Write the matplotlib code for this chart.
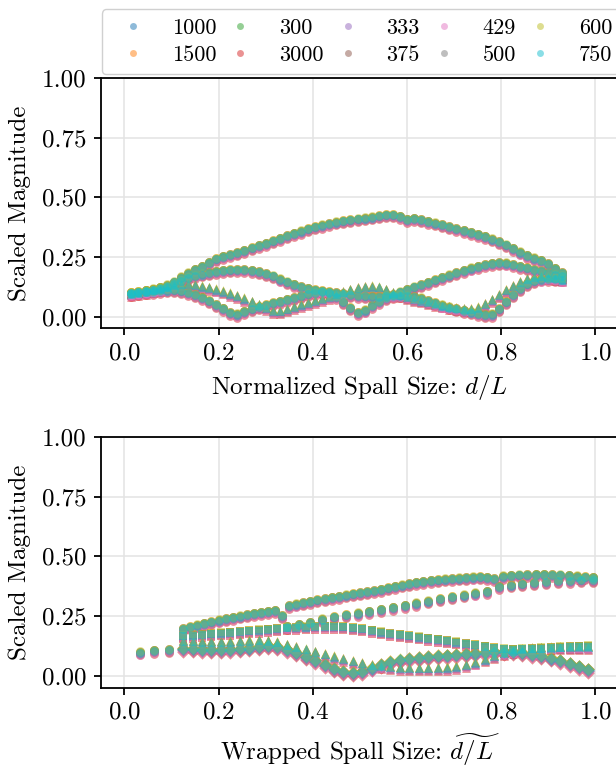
import numpy as np
import matplotlib
matplotlib.use("Agg")
import matplotlib.pyplot as plt
from matplotlib.lines import Line2D

plt.rcParams["font.family"] = "serif"
plt.rcParams["font.serif"] = ["cmr10"]
plt.rcParams["mathtext.fontset"] = "cm"
plt.rcParams["axes.formatter.use_mathtext"] = True
plt.rcParams["axes.unicode_minus"] = False

# series (legend order) and their colours
labels = ["1000", "1500", "300", "3000", "333", "375", "429", "500", "600", "750"]
colors = ["tab:blue", "tab:orange", "tab:green", "tab:red", "tab:purple",
          "tab:brown", "tab:pink", "tab:gray", "tab:olive", "tab:cyan"]
# small per-series vertical spread
spread = [0.0, 0.004, 0.002, -0.012, -0.004, -0.006, -0.008, 0.003, 0.005, 0.0]

# ---- top panel: normalized spall size
top_x = [0.015, 0.030, 0.045, 0.060, 0.075, 0.090, 0.105, 0.120, 0.135, 0.150,
         0.165, 0.180, 0.195, 0.210, 0.225, 0.240, 0.255, 0.270, 0.285, 0.300,
         0.315, 0.330, 0.345, 0.360, 0.375, 0.390, 0.405, 0.420, 0.435, 0.450,
         0.465, 0.480, 0.495, 0.510, 0.525, 0.540, 0.555, 0.570, 0.585, 0.600,
         0.615, 0.630, 0.645, 0.660, 0.675, 0.690, 0.705, 0.720, 0.735, 0.750,
         0.765, 0.780, 0.795, 0.810, 0.825, 0.840, 0.855, 0.870, 0.885, 0.900,
         0.915, 0.930]
top_a = [0.097, 0.102, 0.108, 0.113, 0.120, 0.130, 0.143, 0.163, 0.180, 0.196,
         0.208, 0.225, 0.240, 0.250, 0.258, 0.266, 0.276, 0.286, 0.296, 0.305,
         0.315, 0.326, 0.337, 0.347, 0.356, 0.366, 0.374, 0.381, 0.388, 0.394,
         0.399, 0.403, 0.407, 0.411, 0.415, 0.420, 0.424, 0.424, 0.418, 0.405,
         0.410, 0.404, 0.397, 0.390, 0.383, 0.375, 0.367, 0.359, 0.351, 0.343,
         0.334, 0.323, 0.312, 0.298, 0.284, 0.268, 0.255, 0.243, 0.234, 0.220,
         0.200, 0.182]
top_b = [0.097, 0.101, 0.106, 0.111, 0.117, 0.125, 0.135, 0.148, 0.160, 0.170,
         0.176, 0.182, 0.188, 0.192, 0.194, 0.195, 0.195, 0.192, 0.186, 0.178,
         0.168, 0.155, 0.143, 0.133, 0.124, 0.116, 0.110, 0.106, 0.102, 0.098,
         0.094, 0.090, 0.087, 0.085, 0.084, 0.084, 0.085, 0.087, 0.088, 0.087,
         0.083, 0.075, 0.065, 0.055, 0.046, 0.038, 0.031, 0.024, 0.017, 0.011,
         0.006, 0.008, 0.030, 0.060, 0.090, 0.115, 0.135, 0.148, 0.155, 0.158,
         0.157, 0.155]
top_c = [0.095, 0.099, 0.104, 0.110, 0.117, 0.124, 0.132, 0.138, 0.137, 0.132,
         0.126, 0.120, 0.113, 0.105, 0.096, 0.086, 0.075, 0.062, 0.049, 0.036,
         0.024, 0.022, 0.030, 0.040, 0.050, 0.058, 0.066, 0.074, 0.083, 0.093,
         0.103, 0.112, 0.119, 0.124, 0.126, 0.122, 0.112, 0.100, 0.089, 0.080,
         0.073, 0.067, 0.060, 0.053, 0.046, 0.040, 0.035, 0.031, 0.030, 0.038,
         0.052, 0.070, 0.090, 0.110, 0.128, 0.145, 0.157, 0.165, 0.168, 0.167,
         0.162, 0.155]
top_d = [0.095, 0.098, 0.101, 0.104, 0.107, 0.109, 0.110, 0.106, 0.099, 0.090,
         0.078, 0.064, 0.048, 0.032, 0.015, 0.008, 0.020, 0.030, 0.039, 0.047,
         0.055, 0.062, 0.070, 0.077, 0.085, 0.093, 0.100, 0.104, 0.098, 0.082,
         0.060, 0.035, 0.015, 0.025, 0.045, 0.062, 0.077, 0.090, 0.101, 0.112,
         0.122, 0.132, 0.142, 0.152, 0.162, 0.172, 0.182, 0.192, 0.201, 0.209,
         0.216, 0.221, 0.224, 0.222, 0.216, 0.209, 0.202, 0.195, 0.189, 0.182,
         0.175, 0.168]

# ---- bottom panel: wrapped spall size
bot_u1_x = [0.033, 0.064, 0.095,
            0.125, 0.140, 0.155, 0.170, 0.185, 0.200, 0.215, 0.230, 0.245, 0.260,
            0.275, 0.290, 0.305, 0.320, 0.335, 0.350, 0.365, 0.380, 0.395, 0.410,
            0.425, 0.440, 0.455, 0.470, 0.485, 0.500, 0.515, 0.530, 0.545, 0.560,
            0.575, 0.590, 0.605, 0.620, 0.635, 0.650, 0.665, 0.680, 0.695, 0.710,
            0.725, 0.740, 0.755, 0.770, 0.785,
            0.803, 0.820, 0.838, 0.855, 0.873, 0.890, 0.908, 0.925, 0.943, 0.960,
            0.978, 0.995]
bot_u1 = [0.097, 0.104, 0.107,
          0.195, 0.203, 0.210, 0.217, 0.224, 0.231, 0.237, 0.243, 0.248, 0.254,
          0.259, 0.264, 0.268, 0.272, 0.250, 0.292, 0.298, 0.304, 0.310, 0.316,
          0.321, 0.326, 0.331, 0.336, 0.341, 0.346, 0.350, 0.355, 0.360, 0.366,
          0.372, 0.378, 0.384, 0.389, 0.393, 0.397, 0.400, 0.403, 0.405, 0.407,
          0.409, 0.411, 0.412, 0.410, 0.405,
          0.415, 0.418, 0.420, 0.422, 0.423, 0.423, 0.422, 0.420, 0.418, 0.415,
          0.412, 0.410]
bot_u2_x = [0.345, 0.370, 0.395, 0.420, 0.445, 0.470, 0.495, 0.520, 0.545, 0.570,
            0.595, 0.620, 0.645, 0.670, 0.695, 0.720, 0.745, 0.770, 0.795, 0.820,
            0.845, 0.870, 0.895, 0.920, 0.945, 0.970, 0.995]
bot_u2 = [0.205, 0.213, 0.222, 0.235, 0.245, 0.253, 0.260, 0.268, 0.276, 0.284,
          0.293, 0.302, 0.311, 0.320, 0.328, 0.336, 0.344, 0.352, 0.372, 0.378,
          0.383, 0.388, 0.392, 0.396, 0.398, 0.400, 0.400]
bot_x = [0.125, 0.145, 0.165, 0.185, 0.205, 0.225, 0.245, 0.265, 0.285, 0.305,
         0.325, 0.345, 0.365, 0.385, 0.405, 0.425, 0.445, 0.465, 0.485, 0.505,
         0.525, 0.545, 0.565, 0.585, 0.605, 0.625, 0.645, 0.665, 0.685, 0.705,
         0.725, 0.745, 0.765, 0.785, 0.805, 0.825, 0.845, 0.865, 0.885, 0.905,
         0.925, 0.945, 0.965, 0.985]
bot_s = [0.165, 0.168, 0.171, 0.174, 0.177, 0.180, 0.183, 0.186, 0.189, 0.192,
         0.195, 0.198, 0.200, 0.202, 0.204, 0.205, 0.205, 0.203, 0.199, 0.194,
         0.188, 0.181, 0.175, 0.170, 0.165, 0.160, 0.155, 0.150, 0.145, 0.139,
         0.133, 0.127, 0.121, 0.115, 0.110, 0.109, 0.110, 0.112, 0.114, 0.116,
         0.118, 0.120, 0.121, 0.122]
bot_l1 = [0.145, 0.144, 0.143, 0.142, 0.142, 0.143, 0.145, 0.147, 0.148, 0.146,
          0.140, 0.130, 0.120, 0.110, 0.100, 0.090, 0.080, 0.070, 0.060, 0.052,
          0.045, 0.040, 0.036, 0.033, 0.032, 0.031, 0.031, 0.032, 0.034, 0.038,
          0.045, 0.055, 0.068, 0.082, 0.095, 0.105, 0.111, 0.115, 0.117, 0.118,
          0.119, 0.119, 0.120, 0.120]
bot_l2 = [0.112, 0.110, 0.108, 0.107, 0.107, 0.108, 0.110, 0.114, 0.119, 0.123,
          0.120, 0.108, 0.094, 0.078, 0.062, 0.045, 0.028, 0.015, 0.010, 0.016,
          0.030, 0.045, 0.056, 0.064, 0.070, 0.074, 0.078, 0.081, 0.084, 0.087,
          0.090, 0.093, 0.096, 0.099, 0.100, 0.098, 0.094, 0.088, 0.081, 0.072,
          0.062, 0.050, 0.037, 0.025]

top_branches = [(top_x, top_a, "o"), (top_x, top_b, "o"),
                (top_x, top_c, "^"), (top_x, top_d, "o")]
bot_branches = [(bot_u1_x, bot_u1, "o"), (bot_u2_x, bot_u2, "o"),
                (bot_x, bot_s, "s"), (bot_x, bot_l1, "^"), (bot_x, bot_l2, "D")]

W, H = 616, 772
fig = plt.figure(figsize=(W / 100, H / 100), dpi=100)
left = 100.75 / W
width = (619.0 - 100.75) / W
ax1 = fig.add_axes([left, (H - 328.5) / H, width, 250.5 / H])
ax2 = fig.add_axes([left, (H - 687.7) / H, width, 250.7 / H])

fs = 18
for ax, branches, xlabel in [(ax1, top_branches, r"Normalized Spall Size: $d/L$"),
                             (ax2, bot_branches, r"Wrapped Spall Size: $\widetilde{d/L}$")]:
    for i, lab in enumerate(labels):
        for bx, by, mk in branches:
            ax.scatter(bx, np.array(by) + spread[i], s=40, marker=mk,
                       color=colors[i], alpha=0.5, linewidths=0, zorder=3)
    ax.set_xlim(-0.05, 1.05)
    ax.set_ylim(-0.05, 1.0)
    ax.set_xticks([0.0, 0.2, 0.4, 0.6, 0.8, 1.0])
    ax.set_yticks([0.0, 0.25, 0.5, 0.75, 1.0])
    ax.set_yticklabels(["0.00", "0.25", "0.50", "0.75", "1.00"])
    ax.grid(True, color="#e3e3e3", linewidth=1.1, zorder=0)
    ax.set_axisbelow(True)
    for sp in ax.spines.values():
        sp.set_linewidth(1.3)
    ax.tick_params(direction="out", length=5, width=1.3, labelsize=fs, pad=5)
    ax.set_xlabel(xlabel, fontsize=fs, labelpad=6)
    ax.set_ylabel("Scaled Magnitude", fontsize=fs, labelpad=8)

handles = [Line2D([], [], marker="o", linestyle="none", markersize=5,
                  markerfacecolor=c, markeredgewidth=0, alpha=0.5) for c in colors]
fig.legend(handles, labels, ncol=5, loc="lower left",
           bbox_to_anchor=(101.7 / W, (H - 74) / H), bbox_transform=fig.transFigure,
           borderaxespad=0, fontsize=16, handlelength=2.0, handletextpad=0.75,
           columnspacing=0.08, labelspacing=0.35, borderpad=0.4,
           frameon=True, edgecolor="#d0d0d0", framealpha=1.0)

fig.savefig("out.png", dpi=100)
